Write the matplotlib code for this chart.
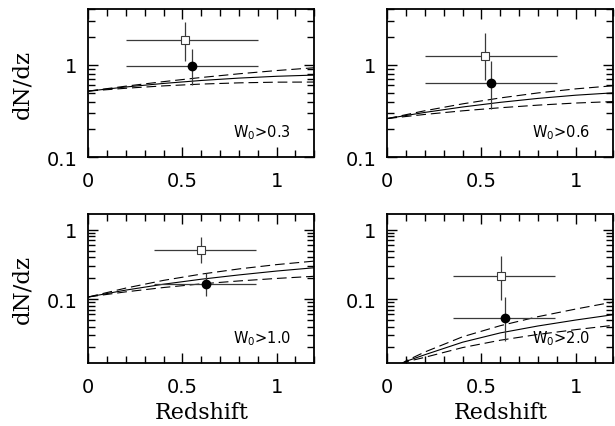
import matplotlib
matplotlib.use('Agg')
import matplotlib.pyplot as plt
import numpy as np
from matplotlib.ticker import MultipleLocator, LogLocator, NullFormatter

z_model = [0.0, 0.2, 0.4, 0.6, 0.8, 1.0, 1.2]
z_model_w20 = [0.0, 0.1, 0.2, 0.4, 0.6, 0.8, 1.0, 1.2]

#Panel labels (rest equivalent width cut)
panel_labels = ['W$_0$>0.3', 'W$_0$>0.6', 'W$_0$>1.0', 'W$_0$>2.0']

#Open squares - dN/dz with redshift bin and error
sq_z = [0.516, 0.521, 0.600, 0.601]
sq_dndz = [1.83, 1.23, 0.509, 0.217]
sq_zlo = [0.20, 0.20, 0.35, 0.35]
sq_zhi = [0.90, 0.90, 0.89, 0.89]
sq_lo = [1.11, 0.68, 0.327, 0.098]
sq_hi = [2.90, 2.20, 0.777, 0.421]

#Filled circles
ci_z = [0.548, 0.548, 0.626, 0.626]
ci_dndz = [0.967, 0.638, 0.164, 0.0532]
ci_zlo = [0.20, 0.20, 0.35, 0.35]
ci_zhi = [0.90, 0.90, 0.89, 0.89]
ci_lo = [0.597, 0.334, 0.109, 0.025]
ci_hi = [1.49, 1.11, 0.237, 0.106]

#Model fits: solid = best fit, dashed = upper / lower
fit_03 = [0.519, 0.575, 0.628, 0.676, 0.717, 0.750, 0.773]
up_03 = [0.519, 0.587, 0.657, 0.728, 0.798, 0.865, 0.928]
lo_03 = [0.519, 0.557, 0.591, 0.618, 0.637, 0.648, 0.650]

fit_06 = [0.262, 0.3055, 0.3495, 0.3924, 0.4327, 0.4685, 0.497]
up_06 = [0.262, 0.3185, 0.3778, 0.4378, 0.4958, 0.5484, 0.593]
lo_06 = [0.262, 0.2905, 0.3178, 0.343, 0.366, 0.3855, 0.400]

fit_10 = [0.107, 0.1346, 0.1637, 0.1932, 0.2228, 0.2535, 0.283]
up_10 = [0.107, 0.144, 0.186, 0.229, 0.272, 0.314, 0.353]
lo_10 = [0.107, 0.127, 0.1466, 0.1656, 0.1824, 0.1982, 0.213]

fit_20 = [0.0088, 0.0126, 0.0157, 0.0238, 0.0324, 0.0408, 0.0497, 0.0594]
up_20 = [0.0088, 0.0128, 0.0172, 0.0285, 0.0412, 0.0556, 0.0716, 0.0905]
lo_20 = [0.0088, 0.0124, 0.0144, 0.0199, 0.0254, 0.0308, 0.0361, 0.0417]

model_z = [z_model, z_model, z_model, z_model_w20]
model_fit = [fit_03, fit_06, fit_10, fit_20]
model_up = [up_03, up_06, up_10, up_20]
model_lo = [lo_03, lo_06, lo_10, lo_20]

y_limits = [(0.1, 4.0), (0.1, 4.0), (0.0119, 1.69), (0.0119, 1.69)]

plt.rcParams['lines.scale_dashes'] = False

fig = plt.figure(figsize=(6.15, 4.27), dpi=100)

#Axes boxes placed by hand to match the 2x2 layout
lefts = [0.1436, 0.6298, 0.1436, 0.6298]
bottoms = [0.6293, 0.6293, 0.1475, 0.1475]
width = 0.3675
heights = [0.3473, 0.3473, 0.349, 0.349]

err_col = '#3a3a3a'

for i in range(4):
    ax = fig.add_axes([lefts[i], bottoms[i], width, heights[i]])
    ax.set_yscale('log')

    #model curves
    ax.plot(model_z[i], model_fit[i], color='black', lw=0.8)
    ax.plot(model_z[i], model_up[i], color='black', lw=0.8, dashes=(7, 3.5))
    ax.plot(model_z[i], model_lo[i], color='black', lw=0.8, dashes=(7, 3.5))

    #open square with its error bars
    xerr_sq = [[sq_z[i] - sq_zlo[i]], [sq_zhi[i] - sq_z[i]]]
    yerr_sq = [[sq_dndz[i] - sq_lo[i]], [sq_hi[i] - sq_dndz[i]]]
    ax.errorbar([sq_z[i]], [sq_dndz[i]], xerr=xerr_sq, yerr=yerr_sq, fmt='s',
                mfc='white', mec=err_col, ms=5.5, mew=0.8, ecolor=err_col,
                elinewidth=0.9, capsize=0, zorder=3)

    #filled circle with its error bars
    xerr_ci = [[ci_z[i] - ci_zlo[i]], [ci_zhi[i] - ci_z[i]]]
    yerr_ci = [[ci_dndz[i] - ci_lo[i]], [ci_hi[i] - ci_dndz[i]]]
    ax.errorbar([ci_z[i]], [ci_dndz[i]], xerr=xerr_ci, yerr=yerr_ci, fmt='o',
                mfc='black', mec='black', ms=6, ecolor=err_col,
                elinewidth=0.9, capsize=0, zorder=4)

    ax.set_xlim(0, 1.2)
    ax.set_ylim(*y_limits[i])

    #ticks: inward on all four sides
    ax.set_xticks([0, 0.5, 1])
    ax.set_xticklabels(['0', '0.5', '1'])
    ax.xaxis.set_minor_locator(MultipleLocator(0.1))
    ax.set_yticks([0.1, 1])
    ax.set_yticklabels(['0.1', '1'])
    ax.yaxis.set_minor_locator(LogLocator(base=10, subs=np.arange(2, 10)))
    ax.yaxis.set_minor_formatter(NullFormatter())
    ax.tick_params(which='both', direction='in', top=True, right=True,
                   labelsize=14, width=1.0)
    ax.tick_params(which='major', length=7.5)
    ax.tick_params(which='minor', length=5)
    ax.tick_params(axis='x', which='major', pad=10)
    ax.tick_params(axis='y', which='major', pad=8)
    for sp in ax.spines.values():
        sp.set_linewidth(1.3)

    ax.text(0.64, 0.14, panel_labels[i], transform=ax.transAxes,
            fontsize=10.5, va='baseline', ha='left')

    if i % 2 == 0:
        ax.set_ylabel('dN/dz', family='DejaVu Serif', fontsize=16.5, labelpad=9)
    if i >= 2:
        ax.set_xlabel('Redshift', family='DejaVu Serif', fontsize=16, labelpad=4)

fig.savefig('out.png', dpi=100)
